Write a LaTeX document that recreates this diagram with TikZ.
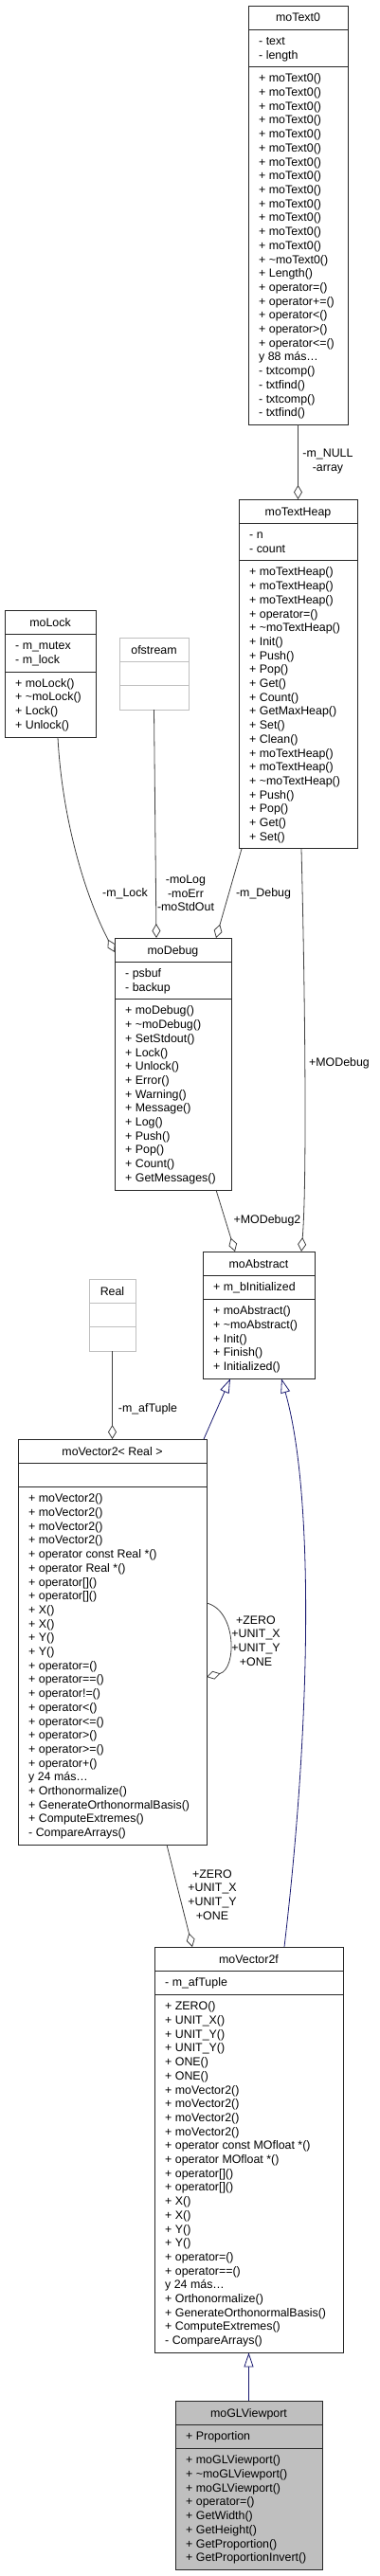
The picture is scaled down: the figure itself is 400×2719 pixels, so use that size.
\documentclass[tikz,border=0pt]{standalone}
\usepackage{fontspec}
\setmainfont{Liberation Sans}
\usetikzlibrary{arrows.meta}
\definecolor{edgegray}{HTML}{404040}
\definecolor{navyblue}{HTML}{191970}
\definecolor{lightbox}{HTML}{BFBFBF}
\newcommand{\umlfont}{\fontsize{12.4}{14.7}\selectfont}
\newcommand{\mlines}[4]{\foreach \mtext [count=\i] in {#4} {\node[mem] (#1-\i) at (#2,{#3+(\i-1)*14.7}) {\mtext};}}
\begin{document}
\begin{tikzpicture}[x=1pt,y=-1pt,
  cls/.style={draw=black!85, line width=0.9pt, anchor=north west, inner sep=0pt, outer sep=0pt, fill=white},
  extcls/.style={cls, draw=lightbox},
  curcls/.style={cls, fill=lightbox},
  mem/.style={anchor=base west, inner sep=0pt, font=\umlfont},
  ttl/.style={anchor=base, inner sep=0pt, font=\umlfont},
  lbl/.style={inner sep=0pt, font=\umlfont, align=center},
  sepl/.style={draw=black!85, line width=0.9pt},
  extsep/.style={draw=lightbox, line width=0.9pt},
  agg/.style={draw=edgegray, line width=0.8pt, -{Diamond[open,length=15pt,width=9pt]}},
  inh/.style={draw=navyblue, line width=0.8pt, -{Triangle[open,length=15pt,width=10pt]}},
]
\useasboundingbox (0,0) rectangle (400,2719);

% ---------- moText0
\node[cls, minimum width=105pt, minimum height=442.4pt] (moText0) at (262,6) {};
\node[ttl] (moText0-t) at (314.5,23) {moText0};
\draw[sepl] (262,31.5) -- (367,31.5);
\draw[sepl] (262,70.9) -- (367,70.9);
\mlines{moText0a}{273}{47.5}{{- text},{- length}}
\mlines{moText0m}{273}{86.9}{{+ moText0()},{+ moText0()},{+ moText0()},{+ moText0()},{+ moText0()},{+ moText0()},{+ moText0()},{+ moText0()},{+ moText0()},{+ moText0()},{+ moText0()},{+ moText0()},{+ moText0()},{+ \textasciitilde moText0()},{+ Length()},{+ operator=()},{+ operator+=()},{+ operator<()},{+ operator>()},{+ operator<=()},{y 88 más…},{- txtcomp()},{- txtfind()},{- txtcomp()},{- txtfind()}}

% ---------- moTextHeap
\node[cls, minimum width=125pt, minimum height=368.9pt] (moTextHeap) at (252,527) {};
\node[ttl] (moTextHeap-t) at (314.5,544) {moTextHeap};
\draw[sepl] (252,552.5) -- (377,552.5);
\draw[sepl] (252,591.9) -- (377,591.9);
\mlines{moTextHeapa}{263}{568.5}{{- n},{- count}}
\mlines{moTextHeapm}{263}{607.9}{{+ moTextHeap()},{+ moTextHeap()},{+ moTextHeap()},{+ operator=()},{+ \textasciitilde moTextHeap()},{+ Init()},{+ Push()},{+ Pop()},{+ Get()},{+ Count()},{+ GetMaxHeap()},{+ Set()},{+ Clean()},{+ moTextHeap()},{+ moTextHeap()},{+ \textasciitilde moTextHeap()},{+ Push()},{+ Pop()},{+ Get()},{+ Set()}}

% ---------- moLock
\node[cls, minimum width=96pt, minimum height=134.5pt] (moLock) at (5,644) {};
\node[ttl] (moLock-t) at (53,661) {moLock};
\draw[sepl] (5,669.5) -- (101,669.5);
\draw[sepl] (5,709.2) -- (101,709.2);
\mlines{moLocka}{16}{685.5}{{- m\_mutex},{- m\_lock}}
\mlines{moLockm}{16}{725.2}{{+ moLock()},{+ \textasciitilde moLock()},{+ Lock()},{+ Unlock()}}

% ---------- ofstream
\node[extcls, minimum width=73pt, minimum height=76.1pt] (ofstream) at (126,673) {};
\node[ttl] (ofstream-t) at (162.5,690) {ofstream};
\draw[extsep] (126,698.5) -- (199,698.5);
\draw[extsep] (126,723.8) -- (199,723.8);

% ---------- moDebug
\node[cls, minimum width=123pt, minimum height=266pt] (moDebug) at (121,990) {};
\node[ttl] (moDebug-t) at (182.5,1007) {moDebug};
\draw[sepl] (121,1015.5) -- (244,1015.5);
\draw[sepl] (121,1054.9) -- (244,1054.9);
\mlines{moDebuga}{132}{1031.5}{{- psbuf},{- backup}}
\mlines{moDebugm}{132}{1070.9}{{+ moDebug()},{+ \textasciitilde moDebug()},{+ SetStdout()},{+ Lock()},{+ Unlock()},{+ Error()},{+ Warning()},{+ Message()},{+ Log()},{+ Push()},{+ Pop()},{+ Count()},{+ GetMessages()}}

% ---------- moAbstract
\node[cls, minimum width=118pt, minimum height=134.3pt] (moAbstract) at (214,1321) {};
\node[ttl] (moAbstract-t) at (273,1338) {moAbstract};
\draw[sepl] (214,1346.5) -- (332,1346.5);
\draw[sepl] (214,1371.8) -- (332,1371.8);
\mlines{moAbstracta}{225}{1362.5}{{+ m\_bInitialized}}
\mlines{moAbstractm}{225}{1387.8}{{+ moAbstract()},{+ \textasciitilde moAbstract()},{+ Init()},{+ Finish()},{+ Initialized()}}

% ---------- Real
\node[extcls, minimum width=49pt, minimum height=76.1pt] (Real) at (94,1350) {};
\node[ttl] (Real-t) at (118.5,1367) {Real};
\draw[extsep] (94,1375.5) -- (143,1375.5);
\draw[extsep] (94,1400.8) -- (143,1400.8);

% ---------- moVector2< Real >
\node[cls, minimum width=199pt, minimum height=428.3pt] (moVecR) at (19,1519) {};
\node[ttl] (moVecR-t) at (118.5,1536) {moVector2< Real >};
\draw[sepl] (19,1544.5) -- (218,1544.5);
\draw[sepl] (19,1569.8) -- (218,1569.8);
\mlines{moVecRm}{30}{1585.8}{{+ moVector2()},{+ moVector2()},{+ moVector2()},{+ moVector2()},{+ operator const Real *()},{+ operator Real *()},{+ operator[]()},{+ operator[]()},{+ X()},{+ X()},{+ Y()},{+ Y()},{+ operator=()},{+ operator==()},{+ operator!=()},{+ operator<()},{+ operator<=()},{+ operator>()},{+ operator>=()},{+ operator+()},{y 24 más…},{+ Orthonormalize()},{+ GenerateOrthonormalBasis()},{+ ComputeExtremes()},{- CompareArrays()}}

% ---------- moVector2f
\node[cls, minimum width=199pt, minimum height=428.3pt] (moVecF) at (163,2055) {};
\node[ttl] (moVecF-t) at (262.5,2072) {moVector2f};
\draw[sepl] (163,2080.5) -- (362,2080.5);
\draw[sepl] (163,2105.8) -- (362,2105.8);
\mlines{moVecFa}{174}{2096.5}{{- m\_afTuple}}
\mlines{moVecFm}{174}{2121.8}{{+ ZERO()},{+ UNIT\_X()},{+ UNIT\_Y()},{+ UNIT\_Y()},{+ ONE()},{+ ONE()},{+ moVector2()},{+ moVector2()},{+ moVector2()},{+ moVector2()},{+ operator const MOfloat *()},{+ operator MOfloat *()},{+ operator[]()},{+ operator[]()},{+ X()},{+ X()},{+ Y()},{+ Y()},{+ operator=()},{+ operator==()},{y 24 más…},{+ Orthonormalize()},{+ GenerateOrthonormalBasis()},{+ ComputeExtremes()},{- CompareArrays()}}

% ---------- moGLViewport
\node[curcls, minimum width=155pt, minimum height=178.4pt] (moGLViewport) at (185,2534) {};
\node[ttl] (moGLViewport-t) at (262.5,2551) {moGLViewport};
\draw[sepl] (185,2559.5) -- (340,2559.5);
\draw[sepl] (185,2584.8) -- (340,2584.8);
\mlines{moGLViewporta}{196}{2575.5}{{+ Proportion}}
\mlines{moGLViewportm}{196}{2600.8}{{+ moGLViewport()},{+ \textasciitilde moGLViewport()},{+ moGLViewport()},{+ operator=()},{+ GetWidth()},{+ GetHeight()},{+ GetProportion()},{+ GetProportionInvert()}}

% ---------- connectors
\draw[agg] (moText0.south) -- (moTextHeap.north);
\node[lbl] (l-null) at (346,487) {-m\_NULL\\-array};

\draw[agg] ([xshift=8pt]moLock.south) .. controls (66,870) and (92,950) .. ([yshift=-15pt]moDebug.north west);
\node[lbl] (l-lock) at (132,943) {-m\_Lock};

\draw[agg] (ofstream.south) -- ([xshift=-17.5pt]moDebug.north);
\node[lbl] (l-log) at (196,943) {-moLog\\-moErr\\-moStdOut};

\draw[agg] ([xshift=-59.5pt]moTextHeap.south) -- ([xshift=45.5pt]moDebug.north);
\node[lbl] (l-debug) at (278,943) {-m\_Debug};

\draw[agg] ([xshift=3.5pt]moTextHeap.south) .. controls (322,1050) and (324,1250) .. ([xshift=45pt]moAbstract.north);
\node[lbl] (l-modebug) at (358,1122) {+MODebug};

\draw[agg] ([xshift=45.5pt]moDebug.south) -- ([xshift=-25pt]moAbstract.north);
\node[lbl] (l-modebug2) at (282,1288) {+MODebug2};

\draw[agg] (Real.south) -- (moVecR.north);
\node[lbl] (l-aftuple) at (156,1487) {-m\_afTuple};

\draw[agg] ([yshift=-173pt]moVecR.north east) .. controls (250,1700) and (250,1762) .. ([yshift=-251pt]moVecR.north east);
\node[lbl] (l-self) at (270,1732) {+ZERO\\+UNIT\_X\\+UNIT\_Y\\+ONE};

\draw[agg] ([xshift=57.5pt]moVecR.south) -- ([xshift=-59.5pt]moVecF.north);
\node[lbl] (l-consts) at (224,2000) {+ZERO\\+UNIT\_X\\+UNIT\_Y\\+ONE};

\draw[inh] ([xshift=-3pt]moVecR.north east) -- ([xshift=-30pt]moAbstract.south);
\draw[inh] ([xshift=37.5pt]moVecF.north) .. controls (330,1800) and (330,1570) .. ([xshift=24pt]moAbstract.south);
\draw[inh] (moGLViewport.north) -- (moVecF.south);
\end{tikzpicture}
\end{document}
